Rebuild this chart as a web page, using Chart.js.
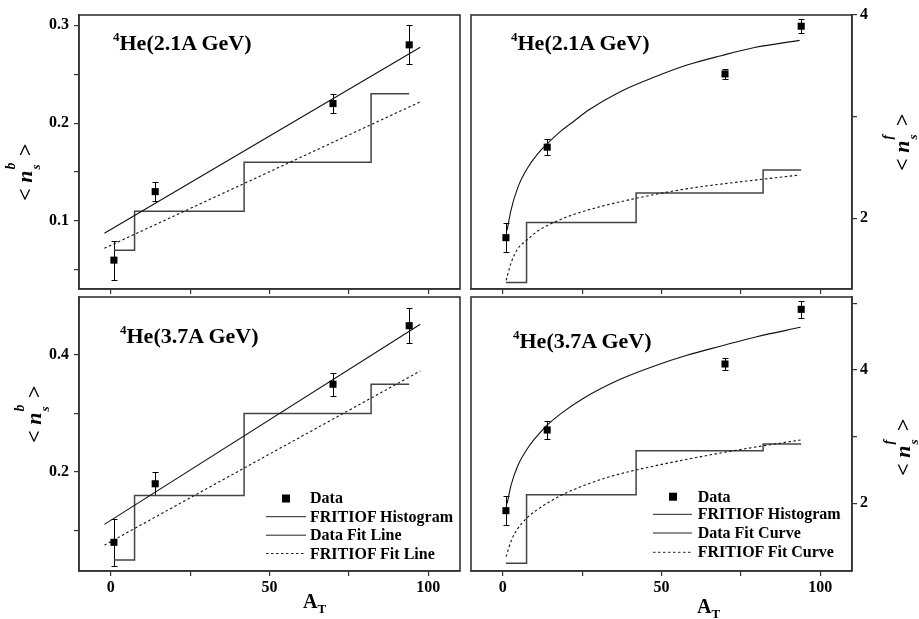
<!DOCTYPE html>
<html>
<head>
<meta charset="utf-8">
<script src="https://cdn.jsdelivr.net/npm/chart.js@4.4.1/dist/chart.umd.min.js"></script>
<style>
html,body{margin:0;padding:0;background:#fff;}
#wrap{position:relative;width:919px;height:619px;overflow:hidden;font-family:"Liberation Serif","Times New Roman",serif;font-weight:bold;color:#000;}
canvas{position:absolute;left:0;top:0;}
.t{position:absolute;white-space:nowrap;line-height:1;z-index:5;}
.ann{font-size:22px;}
.ann .s4{position:relative;top:-9px;font-size:13px;}
.ytl{position:absolute;width:80px;height:30px;line-height:30px;font-size:22px;text-align:center;transform:rotate(-90deg);white-space:nowrap;z-index:5;}
.ytl i{font-style:italic;}
.ss{display:inline-block;position:relative;width:9px;height:22px;vertical-align:baseline;}
.ss .up{position:absolute;left:1px;top:-6px;font-size:14px;line-height:1;font-style:italic;}
.ss .dn{position:absolute;left:1px;top:19px;font-size:13px;line-height:1;font-style:italic;}
.xt{font-size:20px;}
.xt .sub{position:relative;top:5px;font-size:13px;}
.leg{font-size:16px;}
svg.lg{position:absolute;left:0;top:0;z-index:4;}
</style>
</head>
<body>
<div id="wrap">
<canvas id="c1" width="919" height="619"></canvas>
<canvas id="c2" width="919" height="619"></canvas>
<canvas id="c3" width="919" height="619"></canvas>
<canvas id="c4" width="919" height="619"></canvas>

<div class="t ann" style="left:113px;top:32px;"><span class="s4">4</span>He(2.1A GeV)</div>
<div class="t ann" style="left:511px;top:31.5px;"><span class="s4">4</span>He(2.1A GeV)</div>
<div class="t ann" style="left:120px;top:325px;"><span class="s4">4</span>He(3.7A GeV)</div>
<div class="t ann" style="left:513px;top:330px;"><span class="s4">4</span>He(3.7A GeV)</div>

<div class="ytl" style="left:-15.4px;top:156.5px;">&lt; <i>n</i><span class="ss"><span class="up">b</span><span class="dn">s</span></span> &gt;</div>
<div class="ytl" style="left:-5.7px;top:399px;">&lt; <i>n</i><span class="ss"><span class="up">b</span><span class="dn">s</span></span> &gt;</div>
<div class="ytl" style="left:861.6px;top:126.5px;">&lt; <i>n</i><span class="ss"><span class="up">f</span><span class="dn">s</span></span> &gt;</div>
<div class="ytl" style="left:862.6px;top:432px;">&lt; <i>n</i><span class="ss"><span class="up">f</span><span class="dn">s</span></span> &gt;</div>

<div class="t xt" style="left:303px;top:591px;">A<span class="sub">T</span></div>
<div class="t xt" style="left:697px;top:596px;">A<span class="sub">T</span></div>

<svg class="lg" width="919" height="619">
  <rect x="282" y="494.5" width="8" height="8" fill="#000"/>
  <line x1="266" y1="516.7" x2="306" y2="516.7" stroke="#222" stroke-width="1"/>
  <line x1="266" y1="535.2" x2="306" y2="535.2" stroke="#222" stroke-width="1"/>
  <line x1="266" y1="553.5" x2="306" y2="553.5" stroke="#222" stroke-width="1" stroke-dasharray="2.5,2.5"/>
  <rect x="669" y="492.7" width="8" height="8" fill="#000"/>
  <line x1="653" y1="514.3" x2="692" y2="514.3" stroke="#222" stroke-width="1"/>
  <line x1="653" y1="533" x2="692" y2="533" stroke="#222" stroke-width="1"/>
  <line x1="653" y1="552.3" x2="692" y2="552.3" stroke="#222" stroke-width="1" stroke-dasharray="2.5,2.5"/>
</svg>
<div class="t leg" style="left:310px;top:490.2px;">Data</div>
<div class="t leg" style="left:310px;top:508.8px;">FRITIOF Histogram</div>
<div class="t leg" style="left:310px;top:527.2px;">Data Fit Line</div>
<div class="t leg" style="left:310px;top:545.5px;">FRITIOF Fit Line</div>
<div class="t leg" style="left:697.7px;top:488.6px;">Data</div>
<div class="t leg" style="left:697.7px;top:506.3px;">FRITIOF Histogram</div>
<div class="t leg" style="left:697.7px;top:525px;">Data Fit Curve</div>
<div class="t leg" style="left:697.7px;top:544.3px;">FRITIOF Fit Curve</div>
</div>

<script>
// ---------- data ----------
const AT = [1, 14, 70, 94];
const nb21 = [0.06, 0.13, 0.22, 0.28];
const nb21Err = [0.02, 0.01, 0.01, 0.02];
const nf21 = [1.81, 2.70, 3.42, 3.89];
const nf21Err = [0.14, 0.08, 0.045, 0.067];
const nb37 = [0.08, 0.18, 0.35, 0.45];
const nb37Err = [0.04, 0.02, 0.02, 0.03];
const nf37 = [1.89, 3.10, 4.09, 4.91];
const nf37Err = [0.22, 0.14, 0.095, 0.13];

// FRITIOF histogram: bin edges and bin heights
const histEdges = [1, 7.5, 42, 82, 94];
const histNb21 = [0.07, 0.11, 0.16, 0.23];
const histNf21 = [1.37, 1.96, 2.25, 2.475];
const histNb37 = [0.05, 0.16, 0.30, 0.35];
const histNf37 = [1.10, 2.13, 2.79, 2.89];

// straight fit lines (end points)
const fitLineX = [-2, 97.5];
const fitNb21Data = [0.0874, 0.2775];
const fitNb21Frit = [0.0721, 0.2218];
const fitNb37Data = [0.1106, 0.4525];
const fitNb37Frit = [0.0752, 0.3727];

// fit curves
const curveNf21DataX = [1.4, 2.6, 4.7, 7.9, 11, 13.9, 18.4, 22.6, 26.8, 37.3, 47.8, 58.3, 68.8, 79.3, 93.5];
const curveNf21DataY = [1.885, 2.08, 2.30, 2.50, 2.635, 2.73, 2.86, 2.96, 3.06, 3.25, 3.39, 3.51, 3.60, 3.68, 3.75];
const curveNf21FritX = [1.07, 2.6, 4.7, 7.4, 11, 15.8, 21.6, 28.9, 41, 57.8, 81.9, 93.5];
const curveNf21FritY = [1.39, 1.56, 1.70, 1.78, 1.875, 1.955, 2.03, 2.10, 2.19, 2.29, 2.385, 2.426];
const curveNf37DataX = [1.4, 2.6, 4.7, 7.9, 11, 13.9, 18.4, 25.2, 37, 47.8, 58, 68.8, 80, 93.8];
const curveNf37DataY = [2.0, 2.27, 2.56, 2.83, 3.02, 3.17, 3.35, 3.57, 3.86, 4.06, 4.22, 4.36, 4.5, 4.64];
const curveNf37FritX = [1.07, 2.6, 4.7, 7.4, 11, 18.4, 25.7, 33, 42, 58, 74, 93.8];
const curveNf37FritY = [1.2, 1.43, 1.62, 1.77, 1.91, 2.12, 2.27, 2.39, 2.5, 2.66, 2.8, 2.95];

// axes / ticks
const X_MIN = -10, X_MAX = 110;
const xTicksMajor = [0, 50, 100];
const xTicksMinor = [25, 75];
const yTicksNb21Major = [0.1, 0.2, 0.3];
const yTicksNb21Minor = [0.05, 0.15, 0.25];
const yTicksNf21Major = [2, 4];
const yTicksNf21Minor = [3];
const yTicksNb37Major = [0.2, 0.4];
const yTicksNb37Minor = [0.1, 0.3];
const yTicksNf37Major = [2, 4];
const yTicksNf37Minor = [3, 5];

// ---------- helpers ----------
Chart.defaults.font.family = '"Liberation Serif", "Times New Roman", serif';
Chart.defaults.font.weight = 'bold';
Chart.defaults.font.size = 16;
Chart.defaults.color = '#000';

const pts = (xs, ys) => xs.map((x, i) => ({x, y: ys[i]}));
const histPts = (edges, h) => edges.map((x, i) => ({x, y: h[Math.min(i, h.length - 1)]}));

const boxPlugin = {
  id: 'panelBox',
  afterDraw(chart) {
    const {ctx, chartArea: a} = chart;
    ctx.save();
    ctx.strokeStyle = '#333';
    ctx.lineWidth = 1.6;
    ctx.strokeRect(a.left, a.top, a.right - a.left, a.bottom - a.top);
    ctx.restore();
  }
};
function errPlugin(xv, yv, ev) {
  return {
    id: 'errBars',
    beforeDatasetsDraw(chart) {
      const {ctx} = chart;
      const xs = chart.scales.x, ys = chart.scales.y;
      ctx.save();
      ctx.strokeStyle = '#000';
      ctx.lineWidth = 1;
      xv.forEach((x, i) => {
        const px = Math.round(xs.getPixelForValue(x)) + 0.5;
        const t = Math.round(ys.getPixelForValue(yv[i] + ev[i])) + 0.5;
        const b = Math.round(ys.getPixelForValue(yv[i] - ev[i])) + 0.5;
        ctx.beginPath();
        ctx.moveTo(px, t); ctx.lineTo(px, b);
        ctx.moveTo(px - 3, t); ctx.lineTo(px + 3, t);
        ctx.moveTo(px - 3, b); ctx.lineTo(px + 3, b);
        ctx.stroke();
      });
      ctx.restore();
    }
  };
}

function dataSet(ys) {
  return {data: pts(AT, ys), showLine: false, pointStyle: 'rect', pointRadius: 5,
          backgroundColor: '#000', borderColor: '#000', borderWidth: 0};
}
function histSet(h) {
  return {data: histPts(histEdges, h), showLine: true, stepped: 'before', borderColor: '#444',
          borderWidth: 1.5, pointRadius: 0, fill: false};
}
function lineSet(xs, ys, dashed, smooth) {
  return {data: pts(xs, ys), showLine: true, borderColor: '#111', borderWidth: 1.1,
          borderDash: dashed ? [2.5, 2.5] : [], pointRadius: 0, fill: false,
          cubicInterpolationMode: smooth ? 'monotone' : 'default', tension: 0};
}

function makePanel(id, box, yRight, yMin, yMax, yMajor, yMinor, xLabels, datasets, err) {
  const W = 919, H = 619, AXW = 60, AXH = xLabels ? 40 : 10;
  const padding = yRight
    ? {left: box.l, right: W - box.r - AXW, top: box.t, bottom: H - box.b - AXH}
    : {left: box.l - AXW, right: W - box.r, top: box.t, bottom: H - box.b - AXH};
  const gridOpt = {drawOnChartArea: false, drawTicks: true, tickLength: 5, color: '#333', lineWidth: 1.2};
  new Chart(document.getElementById(id), {
    type: 'scatter',
    data: {datasets},
    options: {
      responsive: false,
      animation: false,
      events: [],
      layout: {padding, autoPadding: false},
      plugins: {legend: {display: false}, tooltip: {enabled: false}},
      scales: {
        x: {
          type: 'linear', position: 'bottom', min: X_MIN, max: X_MAX,
          afterBuildTicks: ax => { ax.ticks = [...xTicksMajor, ...xTicksMinor].sort((a, b) => a - b).map(v => ({value: v})); },
          afterFit: ax => { ax.height = AXH; },
          ticks: {display: xLabels, padding: 2, font: {size: 16, weight: 'bold'},
                  callback: v => xTicksMajor.includes(v) ? String(v) : ''},
          grid: gridOpt,
          border: {display: true, color: '#333', width: 1.6}
        },
        y: {
          type: 'linear', position: yRight ? 'right' : 'left', min: yMin, max: yMax,
          afterBuildTicks: ax => { ax.ticks = [...yMajor, ...yMinor].sort((a, b) => a - b).map(v => ({value: v})); },
          afterFit: ax => { ax.width = AXW; },
          ticks: {padding: yRight ? 3 : 5, font: {size: 16, weight: 'bold'},
                  callback: v => yMajor.includes(v) ? String(v) : ''},
          grid: gridOpt,
          border: {display: true, color: '#333', width: 1.6}
        }
      }
    },
    plugins: [boxPlugin, errPlugin(AT, err[0], err[1])]
  });
}

makePanel('c1', {l: 79, r: 460, t: 15, b: 289}, false, 0.0305, 0.3105, yTicksNb21Major, yTicksNb21Minor, false, [
  dataSet(nb21),
  lineSet(fitLineX, fitNb21Data, false, false),
  lineSet(fitLineX, fitNb21Frit, true, false),
  histSet(histNb21)
], [nb21, nb21Err]);

makePanel('c2', {l: 471, r: 852, t: 15, b: 289}, true, 1.305, 4, yTicksNf21Major, yTicksNf21Minor, false, [
  dataSet(nf21),
  lineSet(curveNf21DataX, curveNf21DataY, false, true),
  lineSet(curveNf21FritX, curveNf21FritY, true, true),
  histSet(histNf21)
], [nf21, nf21Err]);

makePanel('c3', {l: 79, r: 460, t: 297, b: 571}, false, 0.031, 0.499, yTicksNb37Major, yTicksNb37Minor, true, [
  dataSet(nb37),
  lineSet(fitLineX, fitNb37Data, false, false),
  lineSet(fitLineX, fitNb37Frit, true, false),
  histSet(histNb37)
], [nb37, nb37Err]);

makePanel('c4', {l: 471, r: 852, t: 297, b: 571}, true, 0.985, 5.095, yTicksNf37Major, yTicksNf37Minor, true, [
  dataSet(nf37),
  lineSet(curveNf37DataX, curveNf37DataY, false, true),
  lineSet(curveNf37FritX, curveNf37FritY, true, true),
  histSet(histNf37)
], [nf37, nf37Err]);
</script>
</body>
</html>
